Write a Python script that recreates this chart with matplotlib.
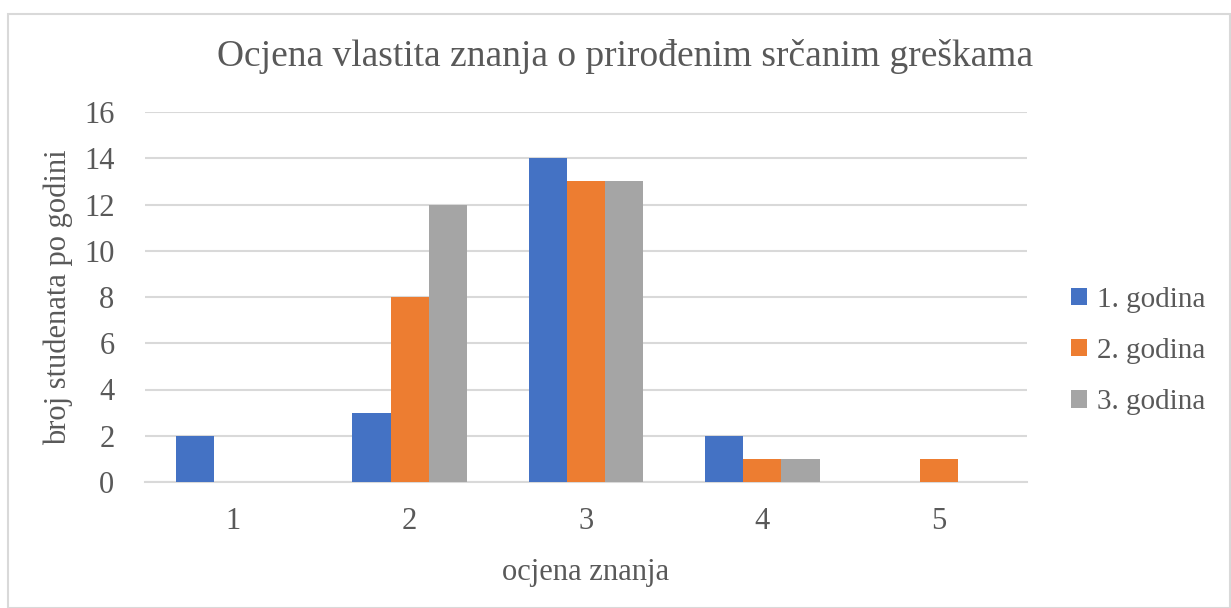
import matplotlib.pyplot as plt
import numpy as np
from matplotlib.patches import Rectangle

plt.rcParams["font.family"] = ["Liberation Serif", "DejaVu Serif"]

categories = ["1", "2", "3", "4", "5"]
series_names = ["1. godina", "2. godina", "3. godina"]
godina_1 = [2, 3, 14, 2, 0]
godina_2 = [0, 8, 13, 1, 1]
godina_3 = [0, 12, 13, 1, 0]
colors = ["#4472C4", "#ED7D31", "#A5A5A5"]

text_color = "#595959"
grid_color = "#D9D9D9"

fig = plt.figure(figsize=(12.31, 6.08), dpi=100)
fig.patch.set_facecolor("white")

# light frame around the chart area
fig.patches.append(Rectangle((8 / 1231, 0), 1 - 8 / 1231 - 0.0005, 1 - 14 / 608,
                             transform=fig.transFigure, fill=False,
                             edgecolor=grid_color, linewidth=1.5))

ax = fig.add_axes([145 / 1231, 1 - 482 / 608, (1027 - 145) / 1231, (482 - 112) / 608])

x = np.arange(1, len(categories) + 1)
width = 0.216
for i, (vals, name, c) in enumerate(zip([godina_1, godina_2, godina_3], series_names, colors)):
    ax.bar(x + (i - 1) * width, vals, width, color=c, label=name, zorder=3)

ax.set_xlim(0.5, 5.5)
ax.set_ylim(0, 16)
ax.set_yticks(range(0, 17, 2))
ax.set_xticks(x)
ax.set_xticklabels(categories)
ax.yaxis.grid(True, color=grid_color, linewidth=1.5, zorder=0)
ax.set_axisbelow(True)
for side in ["top", "right", "left"]:
    ax.spines[side].set_visible(False)
ax.spines["bottom"].set_color(grid_color)
ax.spines["bottom"].set_linewidth(1.5)
ax.tick_params(axis="both", length=0, labelsize=22, labelcolor=text_color)
ax.tick_params(axis="x", pad=18)
ax.tick_params(axis="y", pad=22)

ax.set_xlabel("ocjena znanja", fontsize=22, color=text_color, labelpad=16)
ax.set_ylabel("broj studenata po godini", fontsize=22, color=text_color, labelpad=8)

fig.text(625 / 1231, 1 - 57 / 608, "Ocjena vlastita znanja o prirođenim srčanim greškama",
         ha="center", va="center", fontsize=27, color=text_color)

leg = ax.legend(loc="center left", bbox_to_anchor=(1.02, 0.354), frameon=False,
                fontsize=21, labelcolor=text_color, handlelength=0.55, handleheight=0.55,
                handletextpad=0.35, labelspacing=0.87)

fig.savefig("out.png", dpi=100)
